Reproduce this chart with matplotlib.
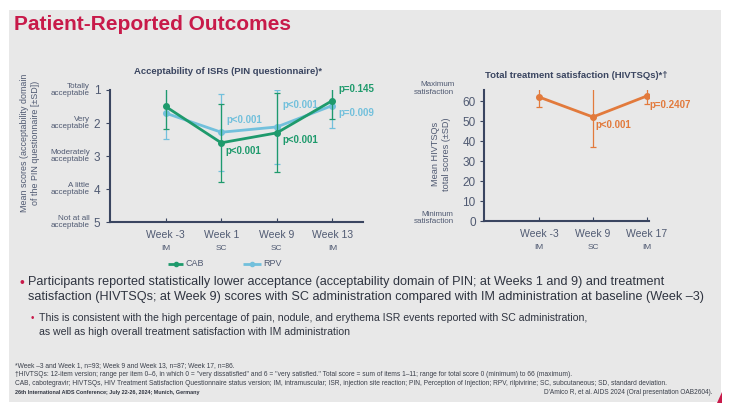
import numpy as np
import matplotlib.pyplot as plt
from matplotlib.patches import Rectangle, Polygon

plt.rcParams['font.family'] = ['Liberation Sans', 'DejaVu Sans']

# PIN acceptability data
pin_weeks = ['Week -3', 'Week 1', 'Week 9', 'Week 13']
pin_route = ['IM', 'SC', 'SC', 'IM']
cab_mean = [1.50, 2.60, 2.30, 1.32]
cab_sd = [0.68, 1.18, 1.20, 0.57]
rpv_mean = [1.70, 2.28, 2.12, 1.47]
rpv_sd = [0.78, 1.17, 1.13, 0.68]
cab_p = ['', 'p<0.001', 'p<0.001', 'p=0.145']
rpv_p = ['', 'p<0.001', 'p<0.001', 'p=0.009']
pin_levels = ['Totally\nacceptable', 'Very\nacceptable', 'Moderately\nacceptable',
              'A little\nacceptable', 'Not at all\nacceptable']

# HIVTSQs data
ts_weeks = ['Week -3', 'Week 9', 'Week 17']
ts_route = ['IM', 'SC', 'IM']
ts_mean = [62.0, 52.0, 62.5]
ts_sd = [5.0, 14.8, 4.0]
ts_p = ['', 'p<0.001', 'p=0.2407']

footnotes = [
    '*Week –3 and Week 1, n=93; Week 9 and Week 13, n=87; Week 17, n=86.',
    '†HIVTSQs: 12-item version; range per item 0–6, in which 0 = "very dissatisfied" and 6 = '
    '"very satisfied." Total score = sum of items 1–11; range for total score 0 (minimum) to 66 (maximum).',
    'CAB, cabotegravir; HIVTSQs, HIV Treatment Satisfaction Questionnaire status version; IM, '
    'intramuscular; ISR, injection site reaction; PIN, Perception of Injection; RPV, rilpivirine; '
    'SC, subcutaneous; SD, standard deviation.',
]

W, H = 740, 411
navy = '#3a4560'
lab = '#505a72'
green = '#1e9a6c'
blue = '#72c0dc'
orange = '#e27a3c'
red = '#c81a4a'
body = '#2f3440'

fig = plt.figure(figsize=(7.4, 4.11), dpi=100)
fig.patch.set_facecolor('white')

def px(x, y):
    return x / W, 1 - y / H

def box(l, t, r, b):
    return [l / W, 1 - b / H, (r - l) / W, (b - t) / H]

fig.patches.append(Rectangle(px(9, 402), 712 / W, 392 / H, transform=fig.transFigure,
                             facecolor='#e8e8e8', edgecolor='none', zorder=-5))
fig.patches.append(Polygon([px(717, 403), px(722, 392), px(722, 403)], closed=True,
                           transform=fig.transFigure, facecolor=red, edgecolor='none',
                           zorder=-4))

fig.text(*px(14, 25), 'Patient-Reported Outcomes', color=red, fontsize=15,
         fontweight='bold', va='center', ha='left')

# ---- left chart
ax = fig.add_axes(box(110, 90, 363, 222))
ax.set_facecolor('none')
x = np.arange(len(pin_weeks))
ax.errorbar(x, rpv_mean, yerr=rpv_sd, color=blue, lw=2, marker='o', ms=4,
            elinewidth=0.9, capsize=2, capthick=0.9, zorder=3)
ax.errorbar(x, cab_mean, yerr=cab_sd, color=green, lw=2, marker='o', ms=4,
            elinewidth=0.9, capsize=2, capthick=0.9, zorder=4)
ax.set_ylim(5, 1)
ax.set_xlim(-1, 3.55)
ax.set_yticks([1, 2, 3, 4, 5])
ax.set_yticklabels(['1', '2', '3', '4', '5'], fontsize=8.5, color=lab)
ax.set_xticks(x)
ax.set_xticklabels(pin_weeks, fontsize=7.5, color=lab)
for s in ['top', 'right']:
    ax.spines[s].set_visible(False)
for s in ['left', 'bottom']:
    ax.spines[s].set_color(navy)
    ax.spines[s].set_linewidth(1.5)
ax.tick_params(axis='y', direction='out', length=3, color=navy, pad=4)
ax.tick_params(axis='x', direction='in', length=3, color=navy, pad=6)
for i, r in enumerate(pin_route):
    ax.annotate(r, (x[i], 5), xytext=(0, -19), textcoords='offset points',
                ha='center', va='center', fontsize=6, color=lab, annotation_clip=False)
for i, lv in enumerate(pin_levels):
    ax.annotate(lv, (-1, i + 1), xytext=(-14.5, 0), textcoords='offset points',
                ha='right', va='center', fontsize=5.8, color=lab, linespacing=1.1,
                annotation_clip=False)
fig.text(*px(30, 143), 'Mean scores (acceptability domain\nof the PIN questionnaire [±SD])',
         fontsize=6.4, color=lab, rotation=90, ha='center', va='center', linespacing=1.3)
fig.text(*px(228, 71), 'Acceptability of ISRs (PIN questionnaire)*', fontsize=6.8,
         fontweight='bold', color=navy, ha='center', va='center')
cab_off = [None, (3, -6), (4, -5), (4, 8)]
rpv_off = [None, (4, 9), (4, 16), (4, -5.5)]
for i in range(1, 4):
    ax.annotate(cab_p[i], (x[i], cab_mean[i]), xytext=cab_off[i], textcoords='offset points',
                fontsize=7, fontweight='bold', color=green, ha='left', va='center',
                annotation_clip=False)
    ax.annotate(rpv_p[i], (x[i], rpv_mean[i]), xytext=rpv_off[i], textcoords='offset points',
                fontsize=7, fontweight='bold', color=blue, ha='left', va='center',
                annotation_clip=False)

# legend
lax = fig.add_axes(box(160, 256, 310, 272))
lax.axis('off')
lax.set_xlim(160, 310)
lax.set_ylim(0, 1)
lax.plot([168, 183], [0.5, 0.5], color=green, lw=2, solid_capstyle='butt')
lax.plot([175.5], [0.5], color=green, marker='o', ms=3)
lax.text(185, 0.5, 'CAB', fontsize=6.5, color=lab, va='center')
lax.plot([243, 261], [0.5, 0.5], color=blue, lw=2, solid_capstyle='butt')
lax.plot([252], [0.5], color=blue, marker='o', ms=3)
lax.text(263.5, 0.5, 'RPV', fontsize=6.5, color=lab, va='center')

# ---- right chart
bx = fig.add_axes(box(484, 90, 649, 221))
bx.set_facecolor('none')
x2 = np.arange(len(ts_weeks))
bx.errorbar(x2, ts_mean, yerr=ts_sd, color=orange, lw=2, marker='o', ms=4,
            elinewidth=0.9, capsize=2, capthick=0.9)
bx.set_ylim(0, 65.5)
bx.set_xlim(-1.02, 2.04)
bx.set_yticks(np.arange(0, 61, 10))
bx.tick_params(axis='y', direction='out', length=3, color=navy, labelsize=8.5,
               labelcolor=lab, pad=3)
bx.set_xticks(x2)
bx.set_xticklabels(ts_weeks, fontsize=7.5, color=lab)
bx.tick_params(axis='x', direction='in', length=3, color=navy, pad=6)
for s in ['top', 'right']:
    bx.spines[s].set_visible(False)
for s in ['left', 'bottom']:
    bx.spines[s].set_color(navy)
    bx.spines[s].set_linewidth(1.5)
for i, r in enumerate(ts_route):
    bx.annotate(r, (x2[i], 0), xytext=(0, -19), textcoords='offset points',
                ha='center', va='center', fontsize=6, color=lab, annotation_clip=False)
bx.annotate('Maximum\nsatisfaction', (-1.02, 65.5), xytext=(-21.5, 1), textcoords='offset points',
            ha='right', va='center', fontsize=5.8, color=lab, linespacing=1.1,
            annotation_clip=False)
bx.annotate('Minimum\nsatisfaction', (-1.02, 0), xytext=(-22, 2), textcoords='offset points',
            ha='right', va='center', fontsize=5.8, color=lab, linespacing=1.1,
            annotation_clip=False)
fig.text(*px(441, 154), 'Mean HIVTSQs\ntotal scores (±SD)', fontsize=6.6, color=lab,
         rotation=90, ha='center', va='center', linespacing=1.15)
fig.text(*px(576, 75), 'Total treatment satisfaction (HIVTSQs)*†', fontsize=6.8,
         fontweight='bold', color=navy, ha='center', va='center')
ts_off = [None, (2, -6), (1.5, -6.8)]
for i in range(1, 3):
    bx.annotate(ts_p[i], (x2[i], ts_mean[i]), xytext=ts_off[i], textcoords='offset points',
                fontsize=7, fontweight='bold', color=orange, ha='left', va='center',
                annotation_clip=False)

# ---- bullets
fig.text(*px(20, 283), '•', color=red, fontsize=10, va='center')
fig.text(*px(28, 276), 'Participants reported statistically lower acceptance (acceptability domain of PIN; '
         'at Weeks 1 and 9) and treatment\nsatisfaction (HIVTSQs; at Week 9) scores with SC '
         'administration compared with IM administration at baseline (Week –3)',
         fontsize=9.1, color=body, va='top', ha='left', linespacing=1.3)
fig.text(*px(31, 318), '•', color=red, fontsize=7, va='center')
fig.text(*px(39, 318), 'This is consistent with the high percentage of pain, nodule, and erythema ISR '
         'events reported with SC administration,', fontsize=7.6, color=body, va='center')
fig.text(*px(39, 332), 'as well as high overall treatment satisfaction with IM administration',
         fontsize=7.6, color=body, va='center')

for i, line in enumerate(footnotes):
    fig.text(*px(15, 366 + 8.5 * i), line, fontsize=4.8, color='#3a3f4a', va='center', ha='left')
fig.text(*px(15, 392), '26th International AIDS Conference; July 22-26, 2024; Munich, Germany',
         fontsize=3.9, fontweight='bold', color=body, va='center', ha='left')
fig.text(*px(712, 392), "D'Amico R, et al. AIDS 2024 (Oral presentation OAB2604).",
         fontsize=4.7, color='#3a3f4a', va='center', ha='right')

fig.savefig('out.png', dpi=100, facecolor=fig.get_facecolor())
